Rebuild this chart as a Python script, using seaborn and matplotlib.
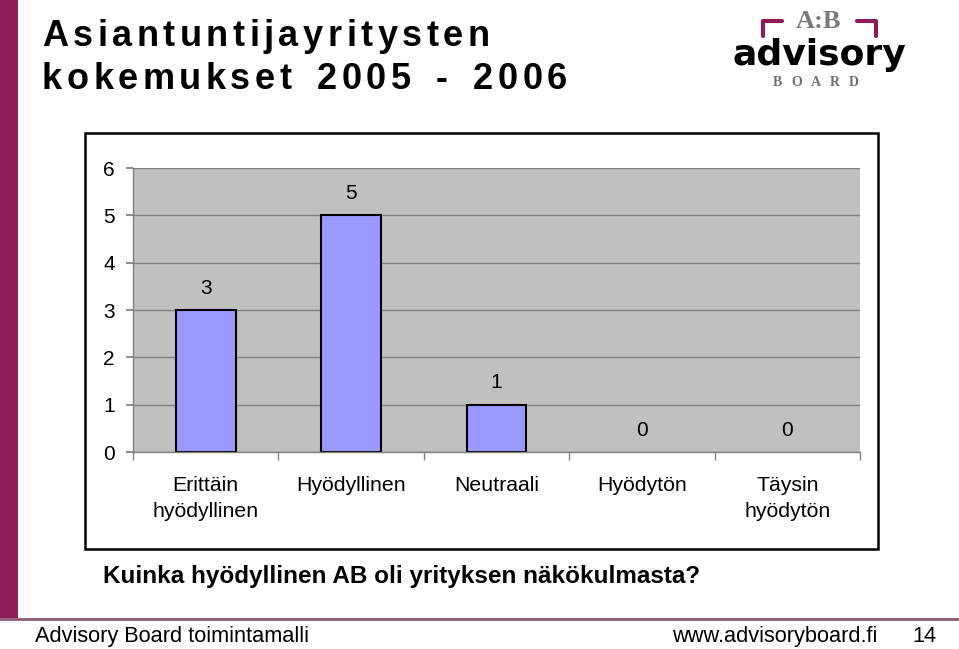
import numpy as np
import pandas as pd
import seaborn as sns
import matplotlib.pyplot as plt
from matplotlib.patches import Rectangle
from matplotlib.lines import Line2D

categories = ["Erittäin\nhyödyllinen", "Hyödyllinen", "Neutraali", "Hyödytön", "Täysin\nhyödytön"]
counts = [3, 5, 1, 0, 0]
yticks = [0, 1, 2, 3, 4, 5, 6]

title_lines = ["Asiantuntijayritysten", "kokemukset 2005 - 2006"]
question = "Kuinka hyödyllinen AB oli yrityksen näkökulmasta?"

sns.set_theme(style="white")
plt.rcParams['font.family'] = ['Liberation Sans', 'DejaVu Sans']
plt.rcParams['text.color'] = "black"
plt.rcParams['xtick.labelcolor'] = "black"
plt.rcParams['ytick.labelcolor'] = "black"

W, H = 959, 649
fig = plt.figure(figsize=(W / 100, H / 100), dpi=100)
fig.patch.set_facecolor("white")


def fx(px):
    return px / W


def fy(py):
    return 1 - py / H


def spaced_text(x_px, y_px, s, gap, space=0.28, **kw):
    """draw text one char at a time to get the wide letter spacing"""
    r = fig.canvas.get_renderer()
    for ch in s:
        if ch == " ":
            x_px += kw["size"] * 100 / 72 * space + gap
            continue
        t = fig.text(fx(x_px), fy(y_px), ch, ha="left", va="baseline", **kw)
        x_px += t.get_window_extent(r).width + gap


# slide decoration
purple = "#8C1C58"
fig.add_artist(Rectangle((0, fy(618)), fx(18), 1 - fy(618), transform=fig.transFigure,
                         color=purple, lw=0))
fig.add_artist(Line2D([0, 1], [fy(619), fy(619)], transform=fig.transFigure,
                      color="#8C5A78", lw=2))

# title
spaced_text(42, 46, title_lines[0], 4.5, size=26, weight="bold", color="black")
spaced_text(42, 89, title_lines[1], 4.5, space=0.45, size=26, weight="bold", color="black")

# logo
fig.add_artist(Line2D([fx(763), fx(763), fx(782)], [fy(36), fy(21), fy(21)],
                      transform=fig.transFigure, color=purple, lw=3))
fig.add_artist(Line2D([fx(857), fx(876), fx(876)], [fy(21), fy(21), fy(36)],
                      transform=fig.transFigure, color=purple, lw=3))
fig.text(fx(819), fy(21), "A:B", family="Liberation Serif", weight="bold",
         color="#7a7a7a", size=19, ha="center", va="center")
fig.text(fx(819), fy(55), "advisory", family="DejaVu Sans", weight="heavy",
         color="black", size=26, ha="center", va="center")
spaced_text(773, 86, "BOARD", 9, size=10, family="Liberation Serif", weight="bold", color="#707070")

# chart frame
fig.add_artist(Rectangle((fx(85), fy(549)), fx(878) - fx(85), fy(133) - fy(549),
                         transform=fig.transFigure, fill=False, edgecolor="black", lw=1.8))

ax = fig.add_axes([fx(133), fy(452), fx(860) - fx(133), fy(168) - fy(452)])
df = pd.DataFrame({"cat": categories, "n": counts})
sns.barplot(data=df, x="cat", y="n", color="#9999FF", edgecolor="black", linewidth=1.5,
            width=0.41, saturation=1, ax=ax)
# excel draws nothing for empty bars
for p in ax.containers[0]:
    if p.get_height() == 0:
        p.set_visible(False)
ax.bar_label(ax.containers[0], labels=[str(c) for c in counts], padding=9, fontsize=15,
             color="black")

ax.set_facecolor("#C0C0C0")
ax.set_xlim(-0.5, len(categories) - 0.5)
ax.set_ylim(0, 6)
ax.set_yticks(yticks)
ax.yaxis.grid(True, color="#808080", lw=1)
ax.set_axisbelow(True)
ax.set_xlabel("")
ax.set_ylabel("")

ax.tick_params(axis="y", left=True, length=5, color="#808080", pad=8, labelsize=15, direction="out")
ax.tick_params(axis="x", which="major", length=0, pad=17, labelsize=15.3)
ax.set_xticks(np.arange(-0.5, len(categories), 1), minor=True)
ax.tick_params(axis="x", which="minor", bottom=True, length=6, color="#808080", direction="out")
for lab in ax.get_xticklabels():
    lab.set_linespacing(1.5)

for side in ["top", "right"]:
    ax.spines[side].set_visible(False)
for side in ["left", "bottom"]:
    ax.spines[side].set_color("#808080")
    ax.spines[side].set_linewidth(1)

# question + footer
fig.text(fx(103), fy(577), question, size=17.5, weight="bold", ha="left", va="center")
fig.text(fx(35), fy(642), "Advisory Board toimintamalli", size=15.7, ha="left", va="baseline")
fig.text(fx(672), fy(642), "www.advisoryboard.fi", size=15.7, ha="left", va="baseline")
fig.text(fx(912), fy(642), "14", size=15.7, ha="left", va="baseline")

fig.savefig("out.png", dpi=100)
